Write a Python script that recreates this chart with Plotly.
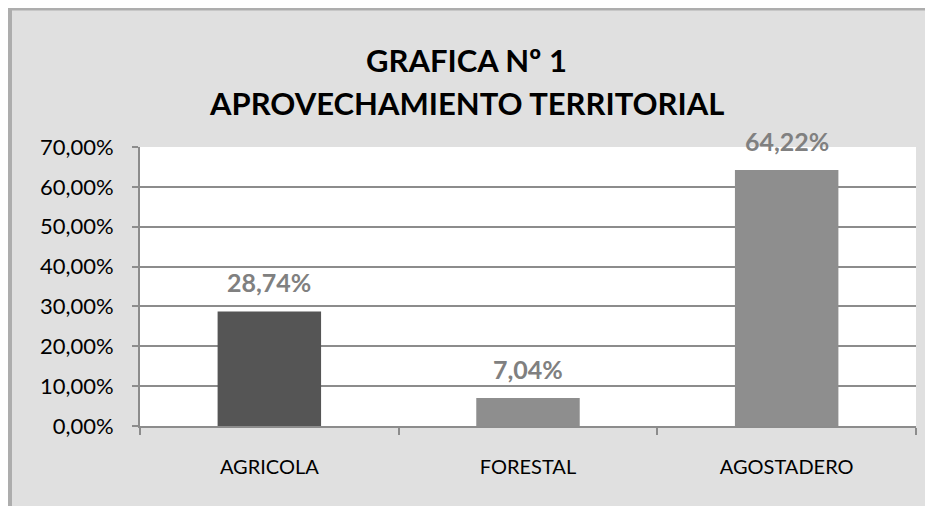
import plotly.graph_objects as go

categorias = ["AGRICOLA", "FORESTAL", "AGOSTADERO"]
porcentajes = [0.2874, 0.0704, 0.6422]
colores = ["#555555", "#8e8e8e", "#8e8e8e"]
ticks_y = [0, 0.1, 0.2, 0.3, 0.4, 0.5, 0.6, 0.7]

# margenes (la pagina añade 8px de margen al cuerpo)
L, R, T, B = 132, 25, 139, 88
ancho_plot = 933 - L - R
alto_plot = 506 - T - B

fig = go.Figure()
fig.add_trace(go.Bar(
    x=categorias,
    y=porcentajes,
    marker=dict(color=colores, line=dict(width=0)),
    showlegend=False,
))

# etiquetas de datos encima de cada barra
for cat, val in zip(categorias, porcentajes):
    fig.add_annotation(
        x=cat, y=val, text=f"{val*100:.2f}%".replace(".", ","),
        showarrow=False, yanchor="bottom", yshift=12,
        font=dict(family="Lato", size=25, color="#808080", weight="bold"),
    )

# titulo en dos lineas
for texto, ypix in [("GRAFICA Nº 1", 60), ("APROVECHAMIENTO TERRITORIAL", 103)]:
    fig.add_annotation(
        text=f"<b>{texto}</b>", xref="paper", yref="paper",
        x=(466 - 8 - L) / ancho_plot, y=1 + (T + 8 - ypix) / alto_plot,
        xanchor="center", yanchor="middle", showarrow=False,
        font=dict(family="Lato", size=31, color="#000000"),
    )

fig.update_layout(
    width=933, height=506,
    paper_bgcolor="#e0e0e0",
    plot_bgcolor="#ffffff",
    margin=dict(l=L, r=R, t=T, b=B),
    separators=",.",
    bargap=0.6,
    font=dict(family="Lato", size=20, color="#000000"),
    xaxis=dict(
        showline=True, linecolor="#8c8c8c", linewidth=2,
        ticks="outside", tickson="boundaries", ticklen=7, tickwidth=2,
        tickcolor="#8c8c8c", ticklabelstandoff=22,
        tickfont=dict(size=20),
    ),
    yaxis=dict(
        range=[0, 0.7], tickvals=ticks_y, tickformat=".2%",
        showline=True, linecolor="#8c8c8c", linewidth=2,
        showgrid=True, gridcolor="#8c8c8c", gridwidth=1.5,
        ticks="outside", ticklen=6, tickwidth=2, tickcolor="#8c8c8c",
        ticklabelstandoff=14,
        zeroline=False, tickfont=dict(size=22),
    ),
)

# borde gris del recuadro (arriba e izquierda)
fig.add_shape(type="line", xref="paper", yref="paper",
              x0=-L / ancho_plot, x1=1 + R / ancho_plot,
              y0=1 + (T - 1) / alto_plot, y1=1 + (T - 1) / alto_plot,
              line=dict(color="#adadad", width=3))
fig.add_shape(type="line", xref="paper", yref="paper",
              x0=-(L - 2) / ancho_plot, x1=-(L - 2) / ancho_plot,
              y0=-B / alto_plot, y1=1 + T / alto_plot,
              line=dict(color="#adadad", width=4))

fig.write_html("out.html")
